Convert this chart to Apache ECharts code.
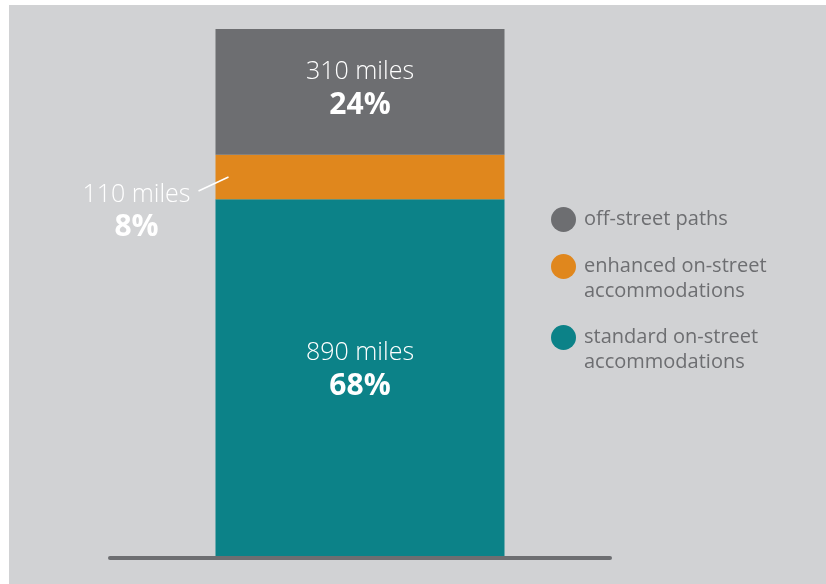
<!DOCTYPE html>
<html>
<head>
<meta charset="utf-8">
<script src="https://cdn.jsdelivr.net/npm/echarts@6/dist/echarts.min.js"></script>
<style>
  html, body { margin: 0; padding: 0; background: #ffffff; }
  #bg { position: absolute; left: 9px; top: 5px; right: 0; bottom: 0; background: #d1d2d4; }
  #chart { position: absolute; left: 0; top: 0; width: 826px; height: 584px; }
</style>
</head>
<body>
<div id="bg"></div>
<div id="chart"></div>
<script>
const categories = ['network'];
const seriesNames = ['standard on-street accommodations', 'enhanced on-street accommodations', 'off-street paths'];
const miles = [890, 110, 310];
const percents = [68, 8, 24];
const colors = ['#0c8288', '#e0871d', '#6d6e71'];

const total = miles.reduce((a, b) => a + b, 0);
const FONT = "'Open Sans', 'Noto Sans', sans-serif";

const richStyle = {
  a: { fontFamily: FONT, fontSize: 25, fontWeight: 300, color: '#ffffff', lineHeight: 33, align: 'center' },
  b: { fontFamily: FONT, fontSize: 30, fontWeight: 'bold', color: '#ffffff', lineHeight: 33, align: 'center' }
};

function labelText(i) {
  return '{a|' + miles[i] + ' miles}\n{b|' + percents[i] + '%}';
}

const labelCfg = [
  { show: true, position: 'inside', offset: [0, -10] },
  { show: true, position: 'left', distance: 25, offset: [0, 34] },
  { show: true, position: 'inside', offset: [0, -3] }
];

const series = seriesNames.map((name, i) => ({
  name: name,
  type: 'bar',
  stack: 'total',
  barWidth: 289,
  data: [miles[i]],
  itemStyle: { color: colors[i] },
  emphasis: { disabled: true },
  label: Object.assign({}, labelCfg[i], {
    formatter: () => labelText(i),
    rich: richStyle
  })
}));

const legendBase = {
  orient: 'vertical',
  left: 551,
  padding: 0,
  icon: 'circle',
  itemWidth: 25,
  itemHeight: 25,
  selectedMode: false,
  textStyle: { fontFamily: FONT, fontSize: 20, color: '#6d6e71', lineHeight: 25, padding: [0, 0, 0, 3] }
};

// multi-line legend names: a leading blank line keeps the icon level with the first line
const wrapName = n => '\n' + n.replace('on-street ', 'on-street\n');

const legends = [
  Object.assign({}, legendBase, { top: 207, data: [seriesNames[2]] }),
  Object.assign({}, legendBase, { top: 229, data: [seriesNames[1]], formatter: wrapName }),
  Object.assign({}, legendBase, { top: 300, data: [seriesNames[0]], formatter: wrapName })
];

const chart = echarts.init(document.getElementById('chart'), null, { renderer: 'canvas' });
chart.setOption({
  backgroundColor: 'transparent',
  animation: false,
  grid: { left: 110, right: 216, top: 29, bottom: 24, outerBoundsMode: 'none' },
  xAxis: {
    type: 'category',
    data: categories,
    z: 5,
    offset: -2,
    axisLine: { show: true, lineStyle: { color: '#6d6e71', width: 4 } },
    axisTick: { show: false },
    axisLabel: { show: false },
    splitLine: { show: false }
  },
  yAxis: {
    type: 'value',
    min: 0,
    max: total,
    show: false,
    splitLine: { show: false }
  },
  legend: legends,
  series: series
});

// leader line for the small (enhanced) segment, anchored via the library's scales
const mid = chart.convertToPixel({ gridIndex: 0 }, [0, miles[0] + miles[1] / 2]);
const barLeft = mid[0] - 289 / 2;
chart.setOption({
  graphic: [{
    type: 'line',
    z: 10,
    shape: { x1: barLeft - 17, y1: mid[1] + 14, x2: barLeft + 13, y2: mid[1] },
    style: { stroke: '#ffffff', lineWidth: 1.5 }
  }]
});
</script>
</body>
</html>
